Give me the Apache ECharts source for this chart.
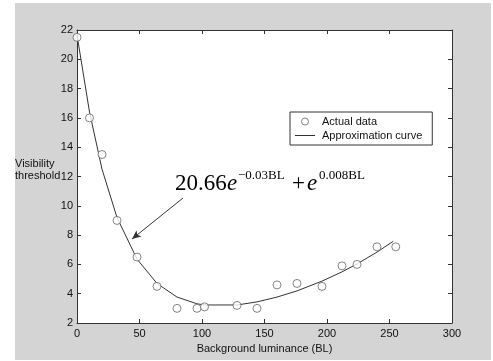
<!DOCTYPE html>
<html>
<head>
<meta charset="utf-8">
<script src="https://cdn.jsdelivr.net/npm/echarts@6/dist/echarts.min.js"></script>
<style>html,body{margin:0;padding:0;background:#fff;}#c{width:493px;height:361px;}</style>
</head>
<body>
<div id="c"></div>
<script>
const dataX = [0, 10, 20, 32, 48, 64, 80, 96, 102, 128, 144, 160, 176, 196, 212, 224, 240, 255];
const dataY = [21.5, 16, 13.5, 9, 6.5, 4.5, 3, 3, 3.1, 3.2, 3, 4.6, 4.7, 4.5, 5.9, 6, 7.2, 7.2];
// Approximation curve
const curveX = [0, 10, 20, 32, 48, 64, 80, 96, 102, 128, 144, 160, 176, 196, 212, 224, 240, 253];
const curveY = [21.66, 16.4, 12.5, 9.2, 6.36, 4.7, 3.77, 3.31, 3.23, 3.23, 3.44, 3.77, 4.19, 4.86, 5.49, 6.03, 6.84, 7.58];
const xTicks = [0, 50, 100, 150, 200, 250, 300];
const yTicks = [2, 4, 6, 8, 10, 12, 14, 16, 18, 20, 22];
const legendNames = ['Actual data', 'Approximation curve'];

const FONT = 'Liberation Sans';
const SERIF = 'Liberation Serif';
const axisCol = '#333';
const scatterData = dataX.map((x, i) => [x, dataY[i]]);
const lineData = curveX.map((x, i) => [x, curveY[i]]);

const baseX = {
  type: 'value', min: xTicks[0], max: xTicks[xTicks.length - 1], interval: xTicks[1] - xTicks[0],
  splitLine: { show: false },
  axisLine: { show: true, onZero: false, lineStyle: { color: axisCol, width: 1 } },
  axisTick: { show: true, inside: true, length: 4, lineStyle: { color: axisCol } }
};
const baseY = {
  type: 'value', min: yTicks[0], max: yTicks[yTicks.length - 1], interval: yTicks[1] - yTicks[0],
  splitLine: { show: false },
  axisLine: { show: true, onZero: false, lineStyle: { color: axisCol, width: 1 } },
  axisTick: { show: true, inside: true, length: 4, lineStyle: { color: axisCol } }
};

function txt(left, top, text, size, family, italic) {
  return { type: 'text', z: 100, left: left, top: top,
    style: { text: text, fontFamily: family, fontSize: size, fontStyle: italic ? 'italic' : 'normal', fill: '#000' } };
}

const chart = echarts.init(document.getElementById('c'), null, { renderer: 'canvas' });
chart.setOption({
  backgroundColor: '#fff',
  animation: false,
  graphic: [
    { type: 'rect', z: -10, silent: true, shape: { x: 15, y: 3, width: 476, height: 357 }, style: { fill: '#d4d4d4' } },
    { type: 'text', left: 15, top: 158, style: { text: 'Visibility', fontFamily: FONT, fontSize: 11, fill: '#111' } },
    { type: 'text', left: 15, top: 170, style: { text: 'threshold', fontFamily: FONT, fontSize: 11, fill: '#111' } },
    txt(175, 172, '20.66', 23, SERIF, false),
    txt(227, 172, 'e', 23, SERIF, true),
    txt(238, 169, '\u22120.03BL', 13, SERIF, false),
    txt(292, 172, '+', 23, SERIF, false),
    txt(307, 172, 'e', 23, SERIF, true),
    txt(319, 169, '0.008BL', 13, SERIF, false)
  ],
  grid: { left: 77, right: 41, top: 30, bottom: 38, show: true, backgroundColor: '#fff', borderWidth: 0 },
  xAxis: [
    Object.assign({}, baseX, {
      position: 'bottom',
      name: 'Background luminance (BL)', nameLocation: 'middle', nameGap: 20,
      nameTextStyle: { fontFamily: FONT, fontSize: 11, color: '#111' },
      axisLabel: { show: true, margin: 5, fontFamily: FONT, fontSize: 11, color: '#111' }
    }),
    Object.assign({}, baseX, { position: 'top', axisLabel: { show: false } })
  ],
  yAxis: [
    Object.assign({}, baseY, {
      position: 'left',
      axisLabel: { show: true, margin: 4, fontFamily: FONT, fontSize: 11, color: '#111' }
    }),
    Object.assign({}, baseY, { position: 'right', axisLabel: { show: false } })
  ],
  legend: {
    orient: 'vertical', left: 290, top: 112,
    data: [
      { name: legendNames[0], icon: 'circle', itemStyle: { color: '#fff', borderColor: '#666', borderWidth: 1 } },
      { name: legendNames[1], icon: 'path://M0,0L20,0L20,1L0,1Z', itemStyle: { color: '#333', borderWidth: 0 } }
    ],
    itemWidth: 20, itemHeight: 7, itemGap: 3, symbolKeepAspect: true,
    padding: [4, 10, 4, 5],
    backgroundColor: '#fff', borderColor: '#333', borderWidth: 1, borderRadius: 0,
    textStyle: { fontFamily: FONT, fontSize: 11, color: '#111', padding: [0, 0, 0, 2] }
  },
  series: [
    {
      name: legendNames[1], type: 'line', data: lineData, symbol: 'none', smooth: false,
      lineStyle: { color: '#333', width: 1 }, itemStyle: { color: '#333' }, z: 2,
      markLine: {
        silent: true, animation: false,
        symbol: ['none', 'arrow'], symbolSize: [6, 9],
        lineStyle: { color: '#333', width: 1, type: 'solid' },
        label: { show: false },
        data: [[{ coord: [84.8, 10.53] }, { coord: [44, 7.73] }]]
      }
    },
    {
      name: legendNames[0], type: 'scatter', data: scatterData, symbol: 'circle', symbolSize: 8,
      itemStyle: { color: '#fff', borderColor: '#666', borderWidth: 1 }, z: 3
    }
  ]
});
</script>
</body>
</html>
